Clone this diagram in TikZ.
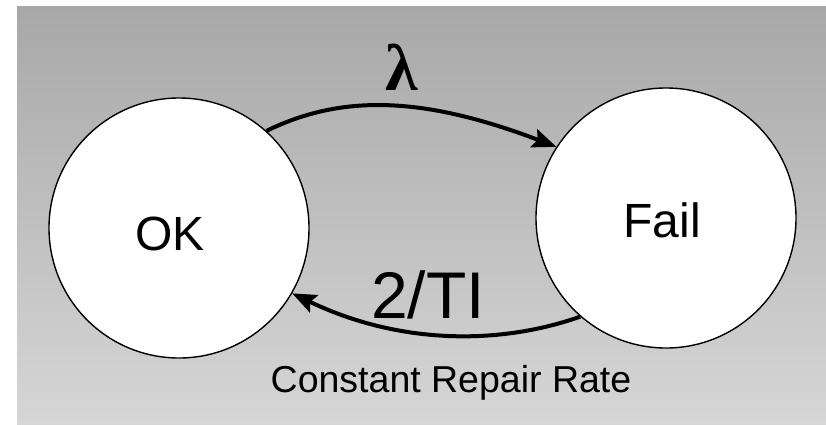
\documentclass[tikz,border=0pt]{standalone}
\usepackage{fontspec}
\setmainfont{Liberation Sans}
\newfontfamily\lamfont{Liberation Serif}
\usetikzlibrary{arrows.meta}
\definecolor{bgtop}{RGB}{168,168,168}
\definecolor{bgbot}{RGB}{214,214,214}
\tikzset{
  statecirc/.style={circle, draw=black, line width=1.4pt, fill=white, minimum size=260pt, inner sep=0pt},
  statetext/.style={anchor=base, inner sep=0pt, font=\fontsize{48}{48}\selectfont},
  trans/.style={line width=4pt, -{Stealth[length=24pt,width=19pt,inset=4pt]}},
  ratetext/.style={anchor=base, inner sep=0pt},
}
\begin{document}
\begin{tikzpicture}[x=1pt,y=-1pt]
\useasboundingbox (0,0) rectangle (826,424);
\shade[top color=bgtop, bottom color=bgbot] (17,6) rectangle (826,424);
\node[statecirc] (ok) at (179,228) {};
\node[statecirc] (fail) at (666,218) {};
\node[statetext] (oktext) at (170,250) {OK};
\node[statetext] (failtext) at (662,237) {Fail};
\draw[trans] (ok.48) .. controls (340,95) and (420,95) .. (fail.147);
\draw[trans] (fail.229) .. controls (500,345) and (400,345) .. (ok.-30);
\node[ratetext, font=\lamfont\bfseries\fontsize{66}{66}\selectfont] (lam) at (402,90) {λ};
\node[ratetext, font=\fontsize{66}{66}\selectfont] (rep) at (428,318) {2/TI};
\node[ratetext, font=\fontsize{37.5}{37.5}\selectfont] (crr) at (451,392) {Constant Repair Rate};
\end{tikzpicture}
\end{document}
